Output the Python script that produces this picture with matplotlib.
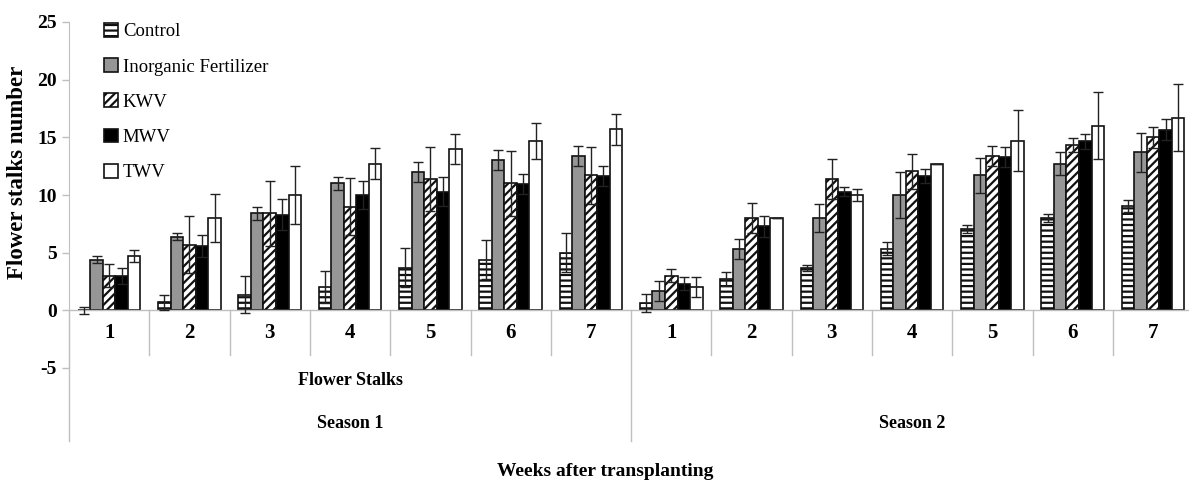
import numpy as np
import matplotlib.pyplot as plt

plt.rcParams["font.family"] = "Liberation Serif"
plt.rcParams["hatch.linewidth"] = 1.6
plt.rcParams["axes.unicode_minus"] = False

weeks = ["1", "2", "3", "4", "5", "6", "7"]
seasons = ["Season 1", "Season 2"]
treatments = ["Control", "Inorganic Fertilizer", "KWV", "MWV", "TWV"]

# means and error bars: season 1 weeks 1-7, then season 2 weeks 1-7
control = [0.0, 0.7, 1.35, 2.0, 3.7, 4.4, 5.0, 0.65, 2.7, 3.7, 5.35, 7.05, 8.0, 9.05]
control_err = [0.3, 0.65, 1.6, 1.4, 1.7, 1.7, 1.7, 0.8, 0.6, 0.26, 0.55, 0.33, 0.33, 0.53]
inorganic = [4.4, 6.4, 8.4, 11.0, 12.0, 13.0, 13.4, 1.7, 5.35, 8.0, 10.0, 11.7, 12.7, 13.7]
inorganic_err = [0.3, 0.3, 0.58, 0.55, 0.85, 0.87, 0.85, 0.87, 0.87, 1.25, 2.0, 1.5, 1.0, 1.67]
kwv = [3.0, 5.7, 8.4, 9.0, 11.4, 11.0, 11.7, 3.0, 8.0, 11.4, 12.05, 13.4, 14.35, 15.0]
kwv_err = [1.0, 2.5, 2.8, 2.5, 2.8, 2.8, 2.5, 0.55, 1.33, 1.75, 1.5, 0.85, 0.6, 0.9]
mwv = [2.95, 5.6, 8.3, 10.0, 10.3, 10.95, 11.65, 2.3, 7.3, 10.3, 11.65, 13.3, 14.65, 15.65]
mwv_err = [0.7, 0.95, 1.35, 1.25, 1.25, 0.85, 0.9, 0.58, 0.9, 0.4, 0.6, 0.9, 0.63, 0.9]
twv = [4.7, 8.0, 10.0, 12.7, 14.0, 14.7, 15.7, 2.0, 8.0, 10.0, 12.7, 14.7, 16.0, 16.7]
twv_err = [0.55, 2.1, 2.5, 1.35, 1.3, 1.55, 1.35, 0.85, 0.0, 0.5, 0.0, 2.65, 2.9, 2.9]

series = [control, inorganic, kwv, mwv, twv]
errors = [control_err, inorganic_err, kwv_err, mwv_err, twv_err]
colores = ["white", "#969696", "white", "black", "white"]
tramas = ["---", None, "////", None, None]

gris = "#bfbfbf"
n = len(control)
x = np.arange(n)
w = 0.156

fig = plt.figure(figsize=(11.89, 4.83), dpi=100)
ax = fig.add_axes([69 / 1189, 1 - 368 / 483, 1 - 69 / 1189, (368 - 22) / 483])

for k in range(5):
    ax.bar(x + (k - 2) * w, series[k], w, color=colores[k], edgecolor="#111111",
           hatch=tramas[k], linewidth=1.2, label=treatments[k],
           yerr=errors[k], capsize=3.5,
           error_kw=dict(ecolor="#222222", elinewidth=1.0, capthick=1.0))

ax.set_ylim(-5, 25)
ax.set_xlim(-0.5, -0.5 + 1120 / 80.3)
ax.set_xticks([])
ax.set_yticks(range(-5, 30, 5))
for t in ax.get_yticklabels():
    t.set_fontweight("bold")
    t.set_fontsize(14)
ax.tick_params(axis="y", color=gris, length=5, width=1, pad=4)
for s in ["top", "right", "bottom"]:
    ax.spines[s].set_visible(False)
ax.spines["left"].set_color(gris)
ax.axhline(0, color=gris, lw=1, zorder=1)

# multi-level category axis under the zero line
for i in range(n + 1):
    xd = i - 0.5
    fondo = -11.3 if i % 7 == 0 else -3.9
    ax.plot([xd, xd], [0, fondo], color=gris, lw=1, clip_on=False)
for i in range(n):
    ax.text(i, -2.0, weeks[i % 7], ha="center", va="center", fontsize=15,
            fontweight="bold", clip_on=False)
ax.text(3, -6.1, "Flower Stalks", ha="center", va="center", fontsize=13,
        fontweight="bold")
for j, s in enumerate(seasons):
    ax.text(3 + 7 * j, -9.8, s, ha="center", va="center", fontsize=13,
            fontweight="bold")

fig.text(605 / 1189, 1 - 472 / 483, "Weeks after transplanting", ha="center",
         va="center", fontsize=14, fontweight="bold")
fig.text(0.015, 1 - 172 / 483, "Flower stalks number", rotation=90,
         ha="center", va="center", fontsize=16.5, fontweight="bold")

ax.legend(loc="upper left", bbox_to_anchor=(104 / 1189, 1 - 23 / 483),
          bbox_transform=fig.transFigure, frameon=False,
          prop={"family": "Liberation Serif", "size": 13.5},
          handlelength=0.75, handleheight=0.75, handletextpad=0.25,
          labelspacing=0.95, borderpad=0, borderaxespad=0)

fig.savefig("out.png", dpi=100)
